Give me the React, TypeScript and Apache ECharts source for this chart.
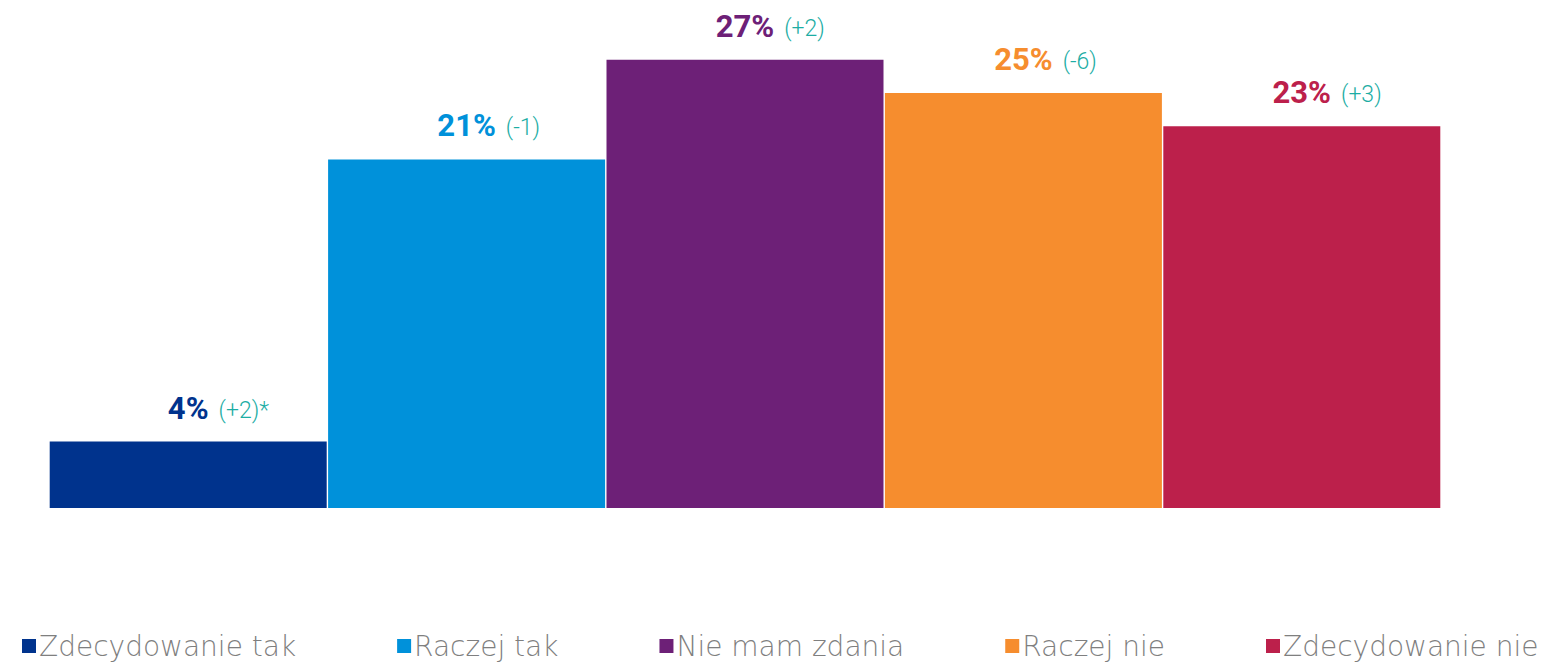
import React, { useEffect, useRef } from "react";
import * as echarts from "echarts";

const categories = ["Zdecydowanie tak", "Raczej tak", "Nie mam zdania", "Raczej nie", "Zdecydowanie nie"];
const values = [4, 21, 27, 25, 23];
const changes = ["(+2)*", "(-1)", "(+2)", "(-6)", "(+3)"];
const colors = ["#00338D", "#0091DA", "#6D2077", "#F68D2E", "#BC204B"];
const changeColor = "#1CADA4";

const FONT = "Roboto, 'Noto Sans', sans-serif";
const LEGEND_FONT = "'DejaVu Sans', Roboto, sans-serif";
const VALUE_SIZE = 31;
const CHANGE_SIZE = 23;
const GAP = 10;

function measure(text: string, font: string): number {
  const c = document.createElement("canvas");
  const ctx = c.getContext("2d");
  if (!ctx) return text.length * 10;
  ctx.font = font;
  return ctx.measureText(text).width;
}

export default function App() {
  const ref = useRef<HTMLDivElement>(null);
  useEffect(() => {
    if (!ref.current) return;
    const chart = echarts.init(ref.current, null, { renderer: "svg" });
    const series = categories.map((name, i) => {
      const padW = GAP + measure(changes[i], `300 ${CHANGE_SIZE}px Roboto`);
      return {
        name,
        type: "bar",
        stack: "all",
        barWidth: 277,
        data: categories.map((_, j) => (j === i ? values[i] : "-")),
        itemStyle: { color: colors[i] },
        label: {
          show: true,
          position: "top",
          distance: 18,
          formatter: () => `{p|}{v|${values[i]}%}{g|}{c|${changes[i]}}`,
          rich: {
            p: { width: padW, height: 10 },
            v: {
              fontFamily: FONT,
              fontSize: VALUE_SIZE,
              fontWeight: "bold",
              color: colors[i],
              verticalAlign: "bottom",
              lineHeight: 32,
            },
            g: { width: GAP, height: 10 },
            c: {
              fontFamily: FONT,
              fontSize: CHANGE_SIZE,
              fontWeight: 300,
              color: changeColor,
              verticalAlign: "bottom",
              lineHeight: 32,
              padding: [0, 0, 2, 0],
            },
          },
        },
      };
    });
    chart.setOption({
      animation: false,
      grid: { left: 49, right: 104, top: 10, bottom: 156 },
      xAxis: { type: "category", data: categories, show: false },
      yAxis: { type: "value", min: 0, max: 30, show: false },
      legend: {
        data: categories,
        left: 17,
        top: 627,
        icon: "rect",
        itemWidth: 14,
        itemHeight: 14,
        itemGap: 101,
        textStyle: {
          fontFamily: LEGEND_FONT,
          fontSize: 28,
          fontWeight: 200,
          lineHeight: 28,
          color: "#7F7F7F",
          padding: [0, 0, 0, -2],
        },
        selectedMode: false,
      },
      series,
    });
    return () => chart.dispose();
  }, []);
  return <div ref={ref} style={{ position: "absolute", left: 0, top: 0, width: 1545, height: 664 }} />;
}
